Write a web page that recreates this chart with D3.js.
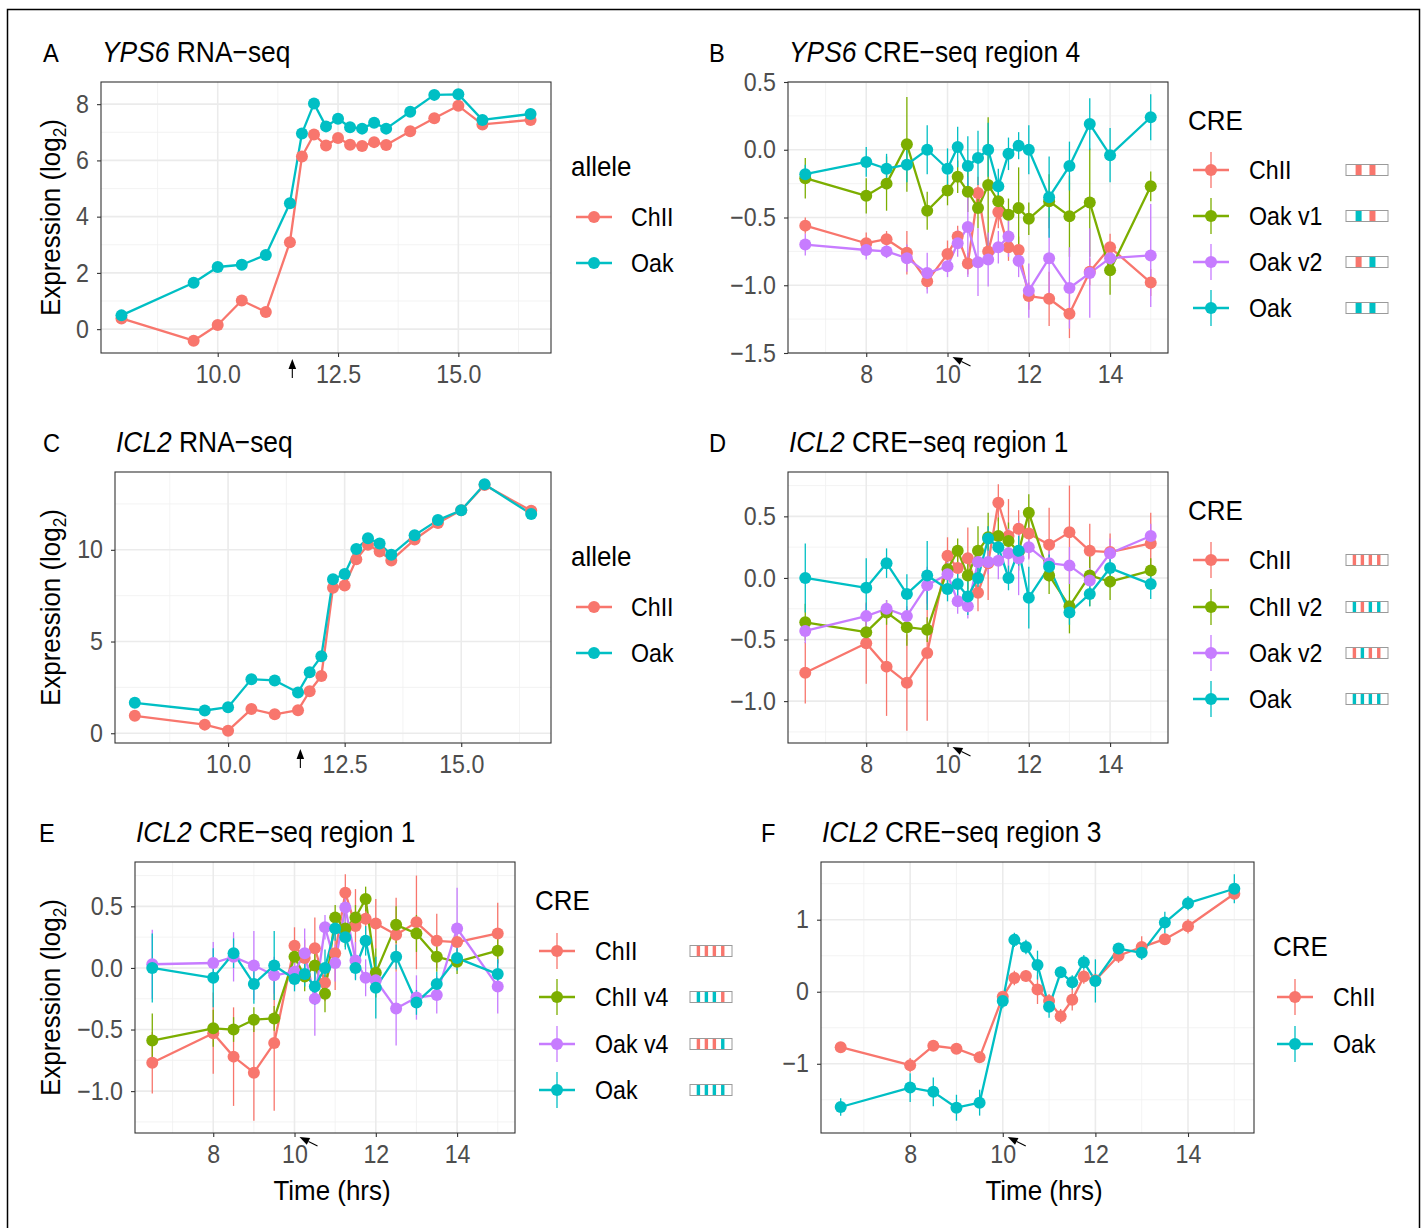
<!DOCTYPE html>
<html>
<head>
<meta charset="utf-8">
<script src="https://cdn.jsdelivr.net/npm/d3@7"></script>
<style>
  body { margin: 0; background: #fff; }
  svg text { font-family: "Liberation Sans", Arial, Helvetica, sans-serif; }
</style>
</head>
<body>
<svg id="fig"></svg>
<script>
// ---- time points ----
const rnaTimes = [8, 9.5, 10, 10.5, 11, 11.5, 11.75, 12, 12.25, 12.5, 12.75, 13, 13.25, 13.5, 14, 14.5, 15, 15.5, 16.5];
const creTimes = [6.5, 8, 8.5, 9, 9.5, 10, 10.25, 10.5, 10.75, 11, 11.25, 11.5, 11.75, 12, 12.5, 13, 13.5, 14, 15];

// ---- A: YPS6 RNA-seq ----
const ypsRnaChII = [0.38, -0.41, 0.15, 1.02, 0.61, 3.09, 6.14, 6.92, 6.53, 6.80, 6.56, 6.51, 6.65, 6.55, 7.04, 7.50, 7.94, 7.28, 7.44];
const ypsRnaOak = [0.49, 1.65, 2.21, 2.29, 2.64, 4.48, 6.96, 8.02, 7.21, 7.48, 7.18, 7.13, 7.34, 7.13, 7.73, 8.33, 8.35, 7.44, 7.65];

// ---- C: ICL2 RNA-seq ----
const iclRnaChII = [0.95, 0.47, 0.14, 1.32, 1.03, 1.26, 2.29, 3.12, 7.93, 8.05, 9.48, 10.27, 9.91, 9.42, 10.56, 11.46, 12.16, 13.53, 12.13];
const iclRnaOak = [1.66, 1.24, 1.42, 2.95, 2.88, 2.22, 3.32, 4.20, 8.40, 8.68, 10.04, 10.63, 10.34, 9.73, 10.79, 11.62, 12.16, 13.57, 11.95];

// ---- B: YPS6 CRE-seq region 4 (mean, error) ----
const bChII = [-0.56, -0.69, -0.66, -0.76, -0.97, -0.77, -0.64, -0.84, -0.32, -0.75, -0.46, -0.72, -0.74, -1.08, -1.10, -1.21, -0.90, -0.72, -0.98];
const bChIIErr = [0.06, 0.08, 0.06, 0.16, 0.06, 0.10, 0.08, 0.08, 0.12, 0.10, 0.12, 0.10, 0.10, 0.10, 0.20, 0.18, 0.10, 0.10, 0.10];
const bOakV1 = [-0.21, -0.34, -0.25, 0.04, -0.45, -0.30, -0.20, -0.31, -0.43, -0.26, -0.38, -0.48, -0.43, -0.51, -0.38, -0.49, -0.39, -0.89, -0.27];
const bOakV1Err = [0.15, 0.13, 0.20, 0.35, 0.14, 0.11, 0.12, 0.15, 0.15, 0.50, 0.10, 0.12, 0.30, 0.12, 0.20, 0.30, 0.40, 0.18, 0.11];
const bOakV2 = [-0.70, -0.74, -0.75, -0.80, -0.91, -0.86, -0.69, -0.57, -0.83, -0.81, -0.72, -0.64, -0.82, -1.04, -0.80, -1.02, -0.91, -0.80, -0.78];
const bOakV2Err = [0.08, 0.07, 0.05, 0.10, 0.15, 0.08, 0.10, 0.37, 0.25, 0.20, 0.12, 0.15, 0.12, 0.20, 0.30, 0.30, 0.33, 0.12, 0.38];
const bOak = [-0.18, -0.09, -0.14, -0.11, 0.00, -0.14, 0.02, -0.12, -0.06, 0.00, -0.27, -0.03, 0.03, 0.00, -0.35, -0.12, 0.19, -0.04, 0.24];
const bOakErr = [0.07, 0.11, 0.11, 0.13, 0.18, 0.15, 0.15, 0.22, 0.20, 0.20, 0.13, 0.12, 0.10, 0.18, 0.30, 0.18, 0.19, 0.20, 0.17];

// ---- D / E: ICL2 CRE-seq region 1 ----
const r1ChII = [-0.77, -0.53, -0.72, -0.85, -0.61, 0.18, 0.08, 0.16, -0.12, 0.12, 0.61, 0.34, 0.40, 0.36, 0.27, 0.37, 0.22, 0.21, 0.28];
const r1ChIIErr = [0.25, 0.33, 0.40, 0.39, 0.55, 0.15, 0.15, 0.25, 0.15, 0.30, 0.15, 0.30, 0.15, 0.20, 0.30, 0.38, 0.22, 0.15, 0.25];
const r1Oak = [0.00, -0.08, 0.12, -0.13, 0.02, -0.09, -0.05, -0.15, 0.00, 0.32, 0.25, 0.00, 0.22, -0.16, 0.09, -0.28, -0.13, 0.08, -0.05];
const r1OakErr = [0.28, 0.24, 0.12, 0.16, 0.28, 0.10, 0.10, 0.15, 0.15, 0.10, 0.10, 0.10, 0.12, 0.25, 0.10, 0.10, 0.10, 0.10, 0.12];
const dChIIv2 = [-0.36, -0.44, -0.28, -0.40, -0.42, 0.07, 0.22, 0.02, 0.22, 0.33, 0.34, 0.30, 0.21, 0.53, 0.02, -0.23, 0.02, -0.03, 0.06];
const dChIIv2Err = [0.15, 0.10, 0.10, 0.15, 0.10, 0.15, 0.10, 0.15, 0.20, 0.20, 0.15, 0.15, 0.15, 0.15, 0.15, 0.22, 0.25, 0.15, 0.10];
const dOakV2 = [-0.43, -0.31, -0.25, -0.31, -0.06, 0.03, -0.19, -0.23, 0.13, 0.13, 0.14, 0.20, 0.16, 0.25, 0.12, 0.10, -0.02, 0.20, 0.34];
const dOakV2Err = [0.10, 0.10, 0.07, 0.08, 0.15, 0.10, 0.10, 0.10, 0.10, 0.10, 0.15, 0.20, 0.30, 0.10, 0.10, 0.15, 0.10, 0.12, 0.10];
const eChIIv4 = [-0.59, -0.49, -0.50, -0.42, -0.41, 0.09, -0.07, 0.02, -0.21, 0.41, 0.32, 0.41, 0.56, -0.04, 0.35, 0.28, 0.09, 0.05, 0.14];
const eChIIv4Err = [0.22, 0.15, 0.10, 0.10, 0.10, 0.10, 0.12, 0.12, 0.15, 0.10, 0.15, 0.10, 0.10, 0.20, 0.15, 0.15, 0.12, 0.10, 0.10];
const eOakV4 = [0.03, 0.04, 0.09, 0.02, -0.06, -0.03, 0.12, -0.25, 0.33, 0.04, 0.49, 0.06, -0.08, -0.10, -0.33, -0.24, -0.22, 0.32, -0.15];
const eOakV4Err = [0.28, 0.17, 0.20, 0.28, 0.15, 0.12, 0.20, 0.30, 0.10, 0.15, 0.15, 0.15, 0.15, 0.10, 0.30, 0.18, 0.15, 0.33, 0.22];

// ---- F: ICL2 CRE-seq region 3 ----
const fChII = [-0.77, -1.02, -0.75, -0.79, -0.91, -0.07, 0.19, 0.22, 0.03, -0.13, -0.34, -0.11, 0.21, 0.16, 0.50, 0.62, 0.73, 0.91, 1.36];
const fChIIErr = [0.07, 0.10, 0.07, 0.07, 0.08, 0.08, 0.10, 0.08, 0.20, 0.10, 0.10, 0.15, 0.10, 0.10, 0.10, 0.15, 0.08, 0.10, 0.08];
const fOak = [-1.60, -1.33, -1.39, -1.61, -1.54, -0.13, 0.72, 0.62, 0.37, -0.21, 0.27, 0.13, 0.41, 0.15, 0.60, 0.54, 0.96, 1.23, 1.43];
const fOakErr = [0.12, 0.20, 0.20, 0.18, 0.18, 0.10, 0.10, 0.10, 0.20, 0.15, 0.08, 0.10, 0.10, 0.30, 0.07, 0.10, 0.15, 0.10, 0.20];

// ---- ticks ----
const rnaXTicks = [10, 12.5, 15];
const rnaXMinor = [8.75, 11.25, 13.75, 16.25];
const creXTicks = [8, 10, 12, 14];
const creXMinor = [7, 9, 11, 13, 15];
const aYTicks = [0, 2, 4, 6, 8];
const aYMinor = [1, 3, 5, 7];
const cYTicks = [0, 5, 10];
const cYMinor = [2.5, 7.5, 12.5];
const bYTicks = [-1.5, -1, -0.5, 0, 0.5];
const bYMinor = [-1.25, -0.75, -0.25, 0.25];
const r1YTicks = [-1, -0.5, 0, 0.5];
const r1YMinor = [-1.25, -0.75, -0.25, 0.25, 0.75];
const fYTicks = [-1, 0, 1];
const fYMinor = [-1.5, -0.5, 0.5, 1.5];

// ---- legend labels and CRE stripe codes (r = ChII site, c = Oak site) ----
const alleleLabels = ["ChII", "Oak"];
const bLabels = ["ChII", "Oak v1", "Oak v2", "Oak"];
const bStripes = ["rr", "cr", "rc", "cc"];
const dLabels = ["ChII", "ChII v2", "Oak v2", "Oak"];
const dStripes = ["rrrr", "crcc", "rcrr", "cccc"];
const eLabels = ["ChII", "ChII v4", "Oak v4", "Oak"];
const eStripes = ["rrrr", "cccr", "rrrc", "cccc"];

const RED = "#F8766D", GREEN = "#7CAE00", PURPLE = "#C77CFF", CYAN = "#00BFC4";
const stripeCol = { r: RED, c: CYAN };

// text in the figure is a narrow sans; squeeze Liberation Sans horizontally
const SX = 0.91;
const FS = { tag: 26, title: 29, tick: 25.5, axisTitle: 28.5, legTitle: 28.5, legText: 25.5 };

const svg = d3.select("#fig").attr("width", 1424).attr("height", 1228);

svg.append("rect")
  .attr("x", 7.5).attr("y", 9.5).attr("width", 1412).attr("height", 1240)
  .attr("fill", "none").attr("stroke", "#000").attr("stroke-width", 1.5);

function narrowText(parent, x, y, size, extra = "") {
  return parent.append("text")
    .attr("transform", `translate(${x},${y}) ${extra} scale(${SX},1)`)
    .style("font-size", size + "px");
}

function expand([a, b]) {
  const d = (b - a) * 0.05;
  return [a - d, b + d];
}

function drawPanel(p) {
  const x = d3.scaleLinear().domain(expand(p.xRange)).range([p.left, p.right]);
  let yDom = p.yFixed;
  if (!yDom) {
    const lo = d3.min(p.series, s => d3.min(s.values, (v, i) => v - (s.err ? s.err[i] : 0)));
    const hi = d3.max(p.series, s => d3.max(s.values, (v, i) => v + (s.err ? s.err[i] : 0)));
    yDom = expand([lo, hi]);
  }
  const y = d3.scaleLinear().domain(yDom).range([p.bottom, p.top]);
  const g = svg.append("g");

  g.append("rect")
    .attr("x", p.left).attr("y", p.top)
    .attr("width", p.right - p.left).attr("height", p.bottom - p.top)
    .attr("fill", "#fff");

  // grid
  g.selectAll(".gxm").data(p.xMinor).join("line")
    .attr("x1", d => x(d)).attr("x2", d => x(d)).attr("y1", p.top).attr("y2", p.bottom)
    .attr("stroke", "#f0f0f0").attr("stroke-width", 0.8);
  g.selectAll(".gym").data(p.yMinor).join("line")
    .attr("y1", d => y(d)).attr("y2", d => y(d)).attr("x1", p.left).attr("x2", p.right)
    .attr("stroke", "#f0f0f0").attr("stroke-width", 0.8);
  g.selectAll(".gx").data(p.xTicks).join("line")
    .attr("x1", d => x(d)).attr("x2", d => x(d)).attr("y1", p.top).attr("y2", p.bottom)
    .attr("stroke", "#ebebeb").attr("stroke-width", 1.6);
  g.selectAll(".gy").data(p.yTicks).join("line")
    .attr("y1", d => y(d)).attr("y2", d => y(d)).attr("x1", p.left).attr("x2", p.right)
    .attr("stroke", "#ebebeb").attr("stroke-width", 1.6);

  // data
  const clipId = "clip" + p.tag;
  svg.append("clipPath").attr("id", clipId).append("rect")
    .attr("x", p.left).attr("y", p.top)
    .attr("width", p.right - p.left).attr("height", p.bottom - p.top);
  const dg = g.append("g").attr("clip-path", `url(#${clipId})`);
  const rows = p.series.map(s => s.values.map((v, i) => ({ t: p.times[i], v, e: s.err ? s.err[i] : 0, c: s.color })));
  const line = d3.line().x(d => x(d.t)).y(d => y(d.v));

  dg.selectAll(".ln").data(rows).join("path")
    .attr("d", line).attr("fill", "none")
    .attr("stroke", d => d[0].c).attr("stroke-width", 2.3).attr("stroke-linejoin", "round");
  rows.forEach(r => {
    dg.append("g").selectAll("line").data(r.filter(d => d.e > 0)).join("line")
      .attr("x1", d => x(d.t)).attr("x2", d => x(d.t))
      .attr("y1", d => y(d.v - d.e)).attr("y2", d => y(d.v + d.e))
      .attr("stroke", d => d.c).attr("stroke-width", 1.3);
  });
  rows.forEach(r => {
    dg.append("g").selectAll("circle").data(r).join("circle")
      .attr("cx", d => x(d.t)).attr("cy", d => y(d.v)).attr("r", 6)
      .attr("fill", d => d.c);
  });

  g.append("rect")
    .attr("x", p.left).attr("y", p.top)
    .attr("width", p.right - p.left).attr("height", p.bottom - p.top)
    .attr("fill", "none").attr("stroke", "#333").attr("stroke-width", 1.1);

  // axes
  const xa = g.append("g").attr("transform", `translate(0,${p.bottom})`)
    .call(d3.axisBottom(x).tickValues(p.xTicks).tickFormat(p.xFmt).tickSize(4).tickPadding(8));
  const ya = g.append("g").attr("transform", `translate(${p.left},0)`)
    .call(d3.axisLeft(y).tickValues(p.yTicks).tickFormat(p.yFmt).tickSize(4).tickPadding(8));
  [xa, ya].forEach(a => {
    a.attr("font-size", null).attr("font-family", null);
    a.select(".domain").remove();
    a.selectAll("line").attr("stroke", "#333").attr("stroke-width", 1.1);
    a.selectAll("text").attr("fill", "#4d4d4d").style("font-size", FS.tick + "px")
      .attr("transform", `scale(${SX},1)`);
  });
  ya.selectAll("text").attr("x", -12 / SX);

  // tag and title
  narrowText(svg, p.tagX, p.titleY, FS.tag).text(p.tag);
  const tt = narrowText(svg, p.left + 1, p.titleY, FS.title);
  tt.append("tspan").style("font-style", "italic").text(p.gene);
  tt.append("tspan").text(" " + p.title);

  if (p.yTitle) {
    const yt = narrowText(svg, 60, (p.top + p.bottom) / 2, FS.axisTitle, "rotate(-90)")
      .attr("text-anchor", "middle");
    yt.append("tspan").text("Expression (log");
    yt.append("tspan").text("2").style("font-size", "19px").attr("dy", 6);
    yt.append("tspan").text(")").attr("dy", -6);
  }
  if (p.xTitleX) {
    narrowText(svg, p.xTitleX, 1200, FS.axisTitle).attr("text-anchor", "middle").text("Time (hrs)");
  }

  // arrow marking the switch time
  let tip, tail;
  if (p.arrow === "up") {
    tip = [x(p.arrowT), p.bottom + 6];
    tail = [x(p.arrowT), p.bottom + 25];
  } else {
    tip = [x(p.arrowT) + 5, p.bottom + 4];
    tail = [x(p.arrowT) + 23, p.bottom + 13];
  }
  const ang = Math.atan2(tip[1] - tail[1], tip[0] - tail[0]);
  const hl = 10, hw = 3.8;
  const bx = tip[0] - hl * Math.cos(ang), by = tip[1] - hl * Math.sin(ang);
  svg.append("line").attr("x1", tail[0]).attr("y1", tail[1]).attr("x2", bx).attr("y2", by)
    .attr("stroke", "#000").attr("stroke-width", 1.1);
  svg.append("path")
    .attr("d", `M${tip[0]},${tip[1]}L${bx + hw * Math.sin(ang)},${by - hw * Math.cos(ang)}L${bx - hw * Math.sin(ang)},${by + hw * Math.cos(ang)}Z`)
    .attr("fill", "#000");

  // legend
  const L = p.legend;
  narrowText(svg, L.x, L.titleY, FS.legTitle).text(L.title);
  L.labels.forEach((lab, i) => {
    const cy = L.rowY[i];
    const c = p.series[i].color;
    const lg = svg.append("g");
    lg.append("line").attr("x1", L.keyX - 18).attr("x2", L.keyX + 18).attr("y1", cy).attr("y2", cy)
      .attr("stroke", c).attr("stroke-width", 2.3);
    if (p.series[i].err) {
      lg.append("line").attr("x1", L.keyX).attr("x2", L.keyX).attr("y1", cy - 18).attr("y2", cy + 18)
        .attr("stroke", c).attr("stroke-width", 1.3);
    }
    lg.append("circle").attr("cx", L.keyX).attr("cy", cy).attr("r", 6).attr("fill", c);
    narrowText(lg, L.labelX, cy, FS.legText).attr("dy", "0.36em").text(lab);
    if (L.stripes) {
      const code = L.stripes[i];
      const bw = 42, bh = 11;
      const centers = code.length === 2 ? [0.30, 0.63] : [0.20, 0.39, 0.58, 0.78];
      const sw = code.length === 2 ? 6 : 3.4;
      lg.append("rect").attr("x", L.boxX).attr("y", cy - bh / 2).attr("width", bw).attr("height", bh)
        .attr("fill", "#fff");
      lg.selectAll(".st").data(code.split("")).join("rect")
        .attr("x", (d, k) => L.boxX + centers[k] * bw - sw / 2).attr("y", cy - bh / 2)
        .attr("width", sw).attr("height", bh).attr("fill", d => stripeCol[d]);
      lg.append("rect").attr("x", L.boxX).attr("y", cy - bh / 2).attr("width", bw).attr("height", bh)
        .attr("fill", "none").attr("stroke", "#9a9a9a").attr("stroke-width", 1);
    }
  });
}

const fmt1 = d3.format(".1f");
const fmtD = d3.format("d");

drawPanel({
  tag: "A", tagX: 43, titleY: 62, gene: "YPS6", title: "RNA\u2212seq",
  left: 101, right: 551, top: 82, bottom: 353,
  times: rnaTimes, xRange: [8, 16.5], xTicks: rnaXTicks, xMinor: rnaXMinor, xFmt: fmt1,
  yTicks: aYTicks, yMinor: aYMinor, yFmt: fmtD, yTitle: true,
  series: [{ values: ypsRnaChII, color: RED }, { values: ypsRnaOak, color: CYAN }],
  arrow: "up", arrowT: 11.55,
  legend: { title: "allele", x: 571, titleY: 176, rowY: [217, 263], keyX: 594, labelX: 631, labels: alleleLabels }
});

drawPanel({
  tag: "B", tagX: 709, titleY: 62, gene: "YPS6", title: "CRE\u2212seq region 4",
  left: 788, right: 1168, top: 82, bottom: 353,
  times: creTimes, xRange: [6.5, 15], xTicks: creXTicks, xMinor: creXMinor, xFmt: fmtD,
  yTicks: bYTicks, yMinor: bYMinor, yFmt: fmt1, yFixed: [-1.5, 0.5],
  series: [
    { values: bChII, err: bChIIErr, color: RED },
    { values: bOakV1, err: bOakV1Err, color: GREEN },
    { values: bOakV2, err: bOakV2Err, color: PURPLE },
    { values: bOak, err: bOakErr, color: CYAN }
  ],
  arrow: "diag", arrowT: 10,
  legend: { title: "CRE", x: 1188, titleY: 130, rowY: [170, 216, 262, 308], keyX: 1211, labelX: 1249, boxX: 1346, labels: bLabels, stripes: bStripes }
});

drawPanel({
  tag: "C", tagX: 43, titleY: 452, gene: "ICL2", title: "RNA\u2212seq",
  left: 115, right: 551, top: 472, bottom: 743,
  times: rnaTimes, xRange: [8, 16.5], xTicks: rnaXTicks, xMinor: rnaXMinor, xFmt: fmt1,
  yTicks: cYTicks, yMinor: cYMinor, yFmt: fmtD, yTitle: true,
  series: [{ values: iclRnaChII, color: RED }, { values: iclRnaOak, color: CYAN }],
  arrow: "up", arrowT: 11.55,
  legend: { title: "allele", x: 571, titleY: 566, rowY: [607, 653], keyX: 594, labelX: 631, labels: alleleLabels }
});

drawPanel({
  tag: "D", tagX: 709, titleY: 452, gene: "ICL2", title: "CRE\u2212seq region 1",
  left: 788, right: 1168, top: 472, bottom: 743,
  times: creTimes, xRange: [6.5, 15], xTicks: creXTicks, xMinor: creXMinor, xFmt: fmtD,
  yTicks: r1YTicks, yMinor: r1YMinor, yFmt: fmt1,
  series: [
    { values: r1ChII, err: r1ChIIErr, color: RED },
    { values: dChIIv2, err: dChIIv2Err, color: GREEN },
    { values: dOakV2, err: dOakV2Err, color: PURPLE },
    { values: r1Oak, err: r1OakErr, color: CYAN }
  ],
  arrow: "diag", arrowT: 10,
  legend: { title: "CRE", x: 1188, titleY: 520, rowY: [560, 607, 653, 699], keyX: 1211, labelX: 1249, boxX: 1346, labels: dLabels, stripes: dStripes }
});

drawPanel({
  tag: "E", tagX: 39, titleY: 842, gene: "ICL2", title: "CRE\u2212seq region 1",
  left: 135, right: 515, top: 862, bottom: 1133,
  times: creTimes, xRange: [6.5, 15], xTicks: creXTicks, xMinor: creXMinor, xFmt: fmtD,
  yTicks: r1YTicks, yMinor: r1YMinor, yFmt: fmt1, yTitle: true, xTitleX: 332,
  series: [
    { values: r1ChII, err: r1ChIIErr, color: RED },
    { values: eChIIv4, err: eChIIv4Err, color: GREEN },
    { values: eOakV4, err: eOakV4Err, color: PURPLE },
    { values: r1Oak, err: r1OakErr, color: CYAN }
  ],
  arrow: "diag", arrowT: 10,
  legend: { title: "CRE", x: 535, titleY: 910, rowY: [951, 997, 1044, 1090], keyX: 557, labelX: 595, boxX: 690, labels: eLabels, stripes: eStripes }
});

drawPanel({
  tag: "F", tagX: 761, titleY: 842, gene: "ICL2", title: "CRE\u2212seq region 3",
  left: 821, right: 1254, top: 862, bottom: 1133,
  times: creTimes, xRange: [6.5, 15], xTicks: creXTicks, xMinor: creXMinor, xFmt: fmtD,
  yTicks: fYTicks, yMinor: fYMinor, yFmt: fmtD, xTitleX: 1044,
  series: [
    { values: fChII, err: fChIIErr, color: RED },
    { values: fOak, err: fOakErr, color: CYAN }
  ],
  arrow: "diag", arrowT: 10,
  legend: { title: "CRE", x: 1273, titleY: 956, rowY: [997, 1044], keyX: 1295, labelX: 1333, labels: alleleLabels }
});
</script>
</body>
</html>
